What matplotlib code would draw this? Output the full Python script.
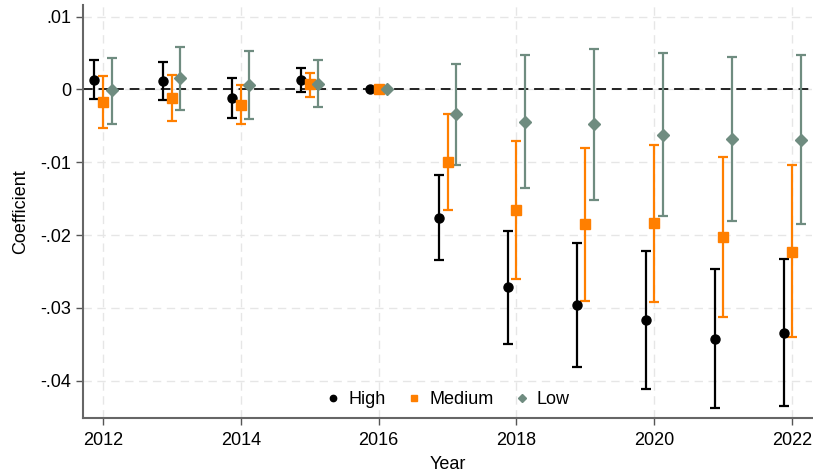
import numpy as np
import matplotlib.pyplot as plt

years = np.arange(2012, 2023)

high = [0.00137, 0.00114, -0.00115, 0.00128, 0.0, -0.0176, -0.0272, -0.0296, -0.0317, -0.0343, -0.0334]
high_lo = [-0.0013, -0.0014, -0.0039, -0.0004, 0.0, -0.0234, -0.0350, -0.0381, -0.0411, -0.0437, -0.0435]
high_hi = [0.0040, 0.0038, 0.00155, 0.0030, 0.0, -0.0118, -0.0194, -0.0211, -0.0222, -0.0247, -0.0233]

medium = [-0.00174, -0.0012, -0.0021, 0.0007, 0.0, -0.0100, -0.0166, -0.0185, -0.0184, -0.0203, -0.0223]
medium_lo = [-0.0053, -0.0043, -0.0048, -0.0010, 0.0, -0.0166, -0.0260, -0.0290, -0.0292, -0.0312, -0.0340]
medium_hi = [0.0018, 0.0020, 0.00055, 0.0023, 0.0, -0.0033, -0.0071, -0.0081, -0.0076, -0.0093, -0.0104]

low = [-0.0001, 0.0016, 0.00055, 0.0008, 0.0, -0.0034, -0.0045, -0.0048, -0.0062, -0.0068, -0.0069]
low_lo = [-0.0048, -0.0028, -0.0041, -0.0024, 0.0, -0.0104, -0.0136, -0.0152, -0.0174, -0.0181, -0.0185]
low_hi = [0.0043, 0.0059, 0.0053, 0.0041, 0.0, 0.0035, 0.0048, 0.0056, 0.0050, 0.0045, 0.0048]

groups = [
    ("High", high, high_lo, high_hi, -0.125, "black", "o", 6.5),
    ("Medium", medium, medium_lo, medium_hi, 0.0, "#ff7f00", "s", 6.5),
    ("Low", low, low_lo, low_hi, 0.125, "#6f8c80", "D", 6.0),
]

plt.rcParams["font.family"] = "Liberation Sans"

fig = plt.figure(figsize=(8.13, 4.74), dpi=100)
ax = fig.add_axes([0.102, 0.118, 0.897, 0.871])

for label, est, lo, hi, shift, color, marker, ms in groups:
    est = np.array(est)
    err = np.vstack([est - np.array(lo), np.array(hi) - est])
    # the reference year has no interval
    err[:, years == 2016] = np.nan
    ax.errorbar(years + shift, est, yerr=err, fmt=marker, color=color,
                ecolor=color, elinewidth=1.6, capsize=3.5, capthick=1.6,
                markersize=ms, label=label, zorder=3)

ax.axhline(0, color="#222222", linestyle=(0, (5, 3)), linewidth=1.4, zorder=2)

ax.set_xlim(2011.71, 2022.29)
ax.set_ylim(-0.04515, 0.01158)
ax.set_xticks(range(2012, 2023, 2))
yt = [0.01, 0.0, -0.01, -0.02, -0.03, -0.04]
ax.set_yticks(yt)
ax.set_yticklabels([".01", "0", "-.01", "-.02", "-.03", "-.04"])
ax.tick_params(labelsize=13, length=5, color="#555555", width=1)
ax.tick_params(axis="x", pad=5)
ax.grid(True, color="#e6e6e6", linestyle=(0, (6, 4)), linewidth=1)
ax.set_axisbelow(True)

for side in ["top", "right"]:
    ax.spines[side].set_visible(False)
for side in ["left", "bottom"]:
    ax.spines[side].set_color("#666666")
    ax.spines[side].set_linewidth(1.5)

ax.set_xlabel("Year", fontsize=13, labelpad=5)
ax.set_ylabel("Coefficient", fontsize=13, labelpad=8)

handles, labels = ax.get_legend_handles_labels()
handles = [h[0] for h in handles]
ax.legend(handles, labels, loc="lower center", bbox_to_anchor=(0.5, -0.015),
          ncol=3, frameon=False, fontsize=13, markerscale=0.7,
          handlelength=0.9, columnspacing=1.1, handletextpad=0.4)

fig.savefig("out.png", dpi=100)
